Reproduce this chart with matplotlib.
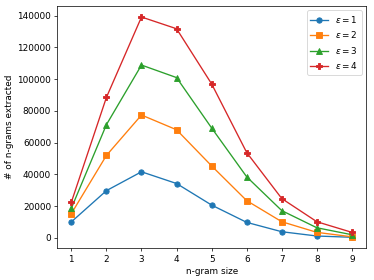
import numpy as np
from matplotlib import pyplot as plt

ngram_sizes = [1, 2, 3, 4, 5, 6, 7, 8, 9]
eps_labels = [r'$\epsilon = 1$', r'$\epsilon = 2$', r'$\epsilon = 3$', r'$\epsilon = 4$']
counts_eps1 = [10000, 29700, 41600, 34200, 20600, 9700, 3800, 1100, 300]
counts_eps2 = [15200, 51900, 77400, 68100, 45300, 23400, 10100, 3400, 600]
counts_eps3 = [18600, 71300, 108900, 101000, 69200, 38400, 17100, 6300, 1900]
counts_eps4 = [22400, 88500, 139200, 131800, 97000, 53700, 24700, 10100, 3400]


def main():
    dpi = 64
    fig, ax = plt.subplots(figsize=(374 / dpi, 280 / dpi), dpi=dpi)
    series = [counts_eps1, counts_eps2, counts_eps3, counts_eps4]
    markers = ['o', 's', '^', 'P']
    for vals, mk, lab in zip(series, markers, eps_labels):
        ax.plot(ngram_sizes, vals, marker=mk, label=lab)

    ax.set_xticks(ngram_sizes)
    ax.set_xlabel('n-gram size')
    ax.set_ylabel('# of n-grams extracted')
    ax.legend(loc='upper right')

    plt.subplots_adjust(left=57.3 / 374, right=366 / 374,
                        top=1 - 6 / 280, bottom=1 - 248.3 / 280)
    plt.savefig('out.png')


if __name__ == '__main__':
    main()
